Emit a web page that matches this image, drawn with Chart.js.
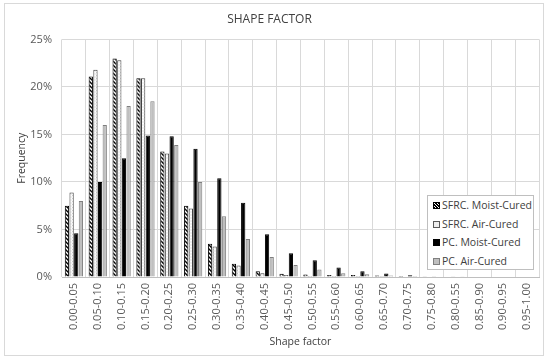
<!DOCTYPE html>
<html>
<head>
<meta charset="utf-8">
<script src="https://cdn.jsdelivr.net/npm/chart.js@4.4.1/dist/chart.umd.min.js"></script>
<style>
  body { margin: 0; background: #fff; }
  #wrap { position: relative; width: 550px; height: 362px; }
  #legend {
    position: absolute; left: 427px; top: 195px; width: 105px; height: 73px;
    border: 1px solid #bfbfbf; background: #fff;
    font-family: 'Open Sans', sans-serif; font-size: 10.5px; color: #404040;
  }
  .item { height: 18.5px; line-height: 18.5px; position: relative; padding-left: 14px; white-space: nowrap; }
  .sw { position: absolute; left: 5px; top: 6px; width: 5px; height: 5px; }
</style>
</head>
<body>
<div id="wrap">
  <canvas id="chart" width="550" height="362"></canvas>
  <div id="legend"></div>
</div>
<script>
const labels = ['0.00-0.05','0.05-0.10','0.10-0.15','0.15-0.20','0.20-0.25','0.25-0.30','0.30-0.35',
  '0.35-0.40','0.40-0.45','0.45-0.50','0.50-0.55','0.55-0.60','0.60-0.65','0.65-0.70','0.70-0.75',
  '0.75-0.80','0.80-0.55','0.85-0.90','0.90-0.95','0.95-1.00'];

// frequency in %
const sfrcMoist = [7.5, 21.1, 23.0, 20.9, 13.2, 7.5, 3.5, 1.4, 0.6, 0.35, 0.25, 0.2, 0.2, 0.15, 0.1, 0.07, 0.05, 0, 0, 0];
const sfrcAir   = [8.9, 21.8, 22.8, 20.9, 13.0, 7.2, 3.2, 1.2, 0.4, 0.2, 0.1, 0.1, 0.1, 0.1, 0.05, 0.05, 0.03, 0, 0, 0];
const pcMoist   = [4.6, 10.0, 12.5, 14.9, 14.8, 13.5, 10.4, 7.8, 4.5, 2.5, 1.77, 1.0, 0.6, 0.36, 0.18, 0.07, 0.05, 0, 0, 0];
const pcAir     = [8.0, 16.0, 18.0, 18.5, 13.9, 10.0, 6.4, 4.0, 2.1, 1.25, 0.8, 0.4, 0.3, 0.15, 0.1, 0.05, 0.03, 0, 0, 0];

const yTicks = [0, 5, 10, 15, 20, 25];

function hatch() {
  const c = document.createElement('canvas');
  c.width = 4; c.height = 4;
  const g = c.getContext('2d');
  g.fillStyle = '#fff';
  g.fillRect(0, 0, 4, 4);
  g.strokeStyle = '#000';
  g.lineWidth = 1.4;
  g.beginPath();
  g.moveTo(-1, -1); g.lineTo(5, 5);
  g.moveTo(-1, 3); g.lineTo(1, 5);
  g.moveTo(3, -1); g.lineTo(5, 1);
  g.stroke();
  return g.createPattern(c, 'repeat');
}

function dots() {
  const c = document.createElement('canvas');
  c.width = 3; c.height = 3;
  const g = c.getContext('2d');
  g.fillStyle = '#fff';
  g.fillRect(0, 0, 3, 3);
  g.fillStyle = '#c8c8c8';
  g.fillRect(0, 0, 1, 1);
  g.fillRect(1.5, 1.5, 1, 1);
  return g.createPattern(c, 'repeat');
}

const frame = {
  id: 'frame',
  beforeDraw(chart) {
    const c = chart.ctx;
    c.save();
    c.fillStyle = '#fff';
    c.fillRect(0, 0, chart.width, chart.height);
    c.strokeStyle = '#d9d9d9';
    c.lineWidth = 1;
    c.strokeRect(4.5, 3.5, 539, 352);
    c.restore();
  }
};

const series = [
  { label: 'SFRC. Moist-Cured', data: sfrcMoist, backgroundColor: hatch(), borderColor: '#000', css: 'repeating-linear-gradient(45deg,#000 0 1px,#fff 1px 2px)', bd: '#000' },
  { label: 'SFRC. Air-Cured', data: sfrcAir, backgroundColor: dots(), borderColor: '#404040', css: '#eee', bd: '#595959' },
  { label: 'PC. Moist-Cured', data: pcMoist, backgroundColor: '#000', borderColor: '#000', css: '#000', bd: '#000' },
  { label: 'PC. Air-Cured', data: pcAir, backgroundColor: '#bfbfbf', borderColor: '#7f7f7f', css: '#bfbfbf', bd: '#7f7f7f' }
];

const font = { family: 'Open Sans', size: 11 };

new Chart(document.getElementById('chart'), {
  type: 'bar',
  data: {
    labels: labels,
    datasets: series.map(s => ({
      label: s.label,
      data: s.data,
      backgroundColor: s.backgroundColor,
      borderColor: s.borderColor,
      borderWidth: 1,
      categoryPercentage: 0.78,
      barPercentage: 0.92
    }))
  },
  options: {
    responsive: false,
    animation: false,
    layout: { padding: { left: 0, right: 11, top: 0, bottom: 0 } },
    scales: {
      x: {
        grid: { color: '#d9d9d9', drawTicks: false },
        border: { color: '#bfbfbf' },
        ticks: { color: '#595959', font: font, autoSkip: false, minRotation: 90, maxRotation: 90, padding: 6 },
        title: { display: true, text: 'Shape factor', color: '#404040', font: { family: 'Open Sans', size: 10.5 }, padding: { top: 0, bottom: 14 } },
        afterFit(scale) { scale.height = 85; }
      },
      y: {
        min: 0, max: 25,
        afterBuildTicks(scale) { scale.ticks = yTicks.map(v => ({ value: v })); },
        grid: { color: '#d9d9d9', drawTicks: false },
        border: { display: false },
        ticks: { color: '#595959', font: font, padding: 10, callback: v => v + '%' },
        title: { display: true, text: 'Frequency', color: '#404040', font: { family: 'Open Sans', size: 10.5 }, padding: { top: 16, bottom: 0 } },
        afterFit(scale) { scale.width = 62; }
      }
    },
    plugins: {
      legend: { display: false },
      tooltip: { enabled: false },
      title: {
        display: true, text: 'SHAPE FACTOR', color: '#404040',
        font: { family: 'Open Sans', size: 12, weight: 'normal' },
        padding: { top: 12, bottom: 13 }
      }
    }
  },
  plugins: [frame]
});

const legend = document.getElementById('legend');
series.forEach(s => {
  const row = document.createElement('div');
  row.className = 'item';
  const sw = document.createElement('span');
  sw.className = 'sw';
  sw.style.background = s.css;
  sw.style.border = '1px solid ' + s.bd;
  row.appendChild(sw);
  row.appendChild(document.createTextNode(s.label));
  legend.appendChild(row);
});
</script>
</body>
</html>
